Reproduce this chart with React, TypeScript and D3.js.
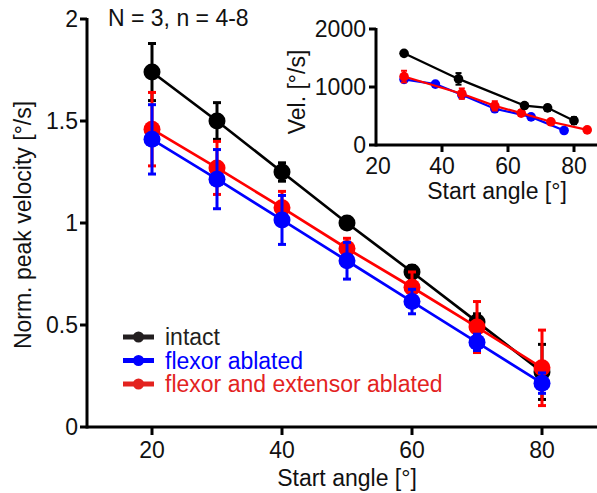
import React from "react";
import * as d3 from "d3";

// main plot: normalized peak velocity vs start angle
const angles = [20, 30, 40, 50, 60, 70, 80];
const intactMean = [1.74, 1.5, 1.25, 1.0, 0.76, 0.515, 0.27];
const intactErr = [0.14, 0.09, 0.045, 0.02, 0.03, 0.04, 0.135];
const flexorMean = [1.41, 1.215, 1.015, 0.815, 0.615, 0.415, 0.215];
const flexorErr = [0.17, 0.145, 0.12, 0.09, 0.06, 0.04, 0.05];
const bothMean = [1.46, 1.27, 1.075, 0.875, 0.685, 0.49, 0.29];
const bothErr = [0.18, 0.13, 0.08, 0.05, 0.075, 0.125, 0.185];

const yTicks = [0, 0.5, 1, 1.5, 2];
const yTickLabels = ["0", "0.5", "1", "1.5", "2"];
const xTicks = [20, 40, 60, 80];

// inset: raw velocity
const inIntactAngle = [28.5, 45, 65, 72, 80];
const inIntactVel = [1580, 1140, 680, 640, 420];
const inIntactErr = [40, 100, 40, 50, 60];
const inFlexorAngle = [28.5, 38, 46, 56, 67, 77];
const inFlexorVel = [1130, 1050, 865, 625, 485, 250];
const inFlexorErr = [40, 30, 40, 40, 30, 30];
const inBothAngle = [28.5, 46, 56, 64, 73, 84];
const inBothVel = [1180, 885, 675, 550, 400, 260];
const inBothErr = [100, 90, 80, 50, 40, 30];

const inYTicks = [0, 1000, 2000];
const inXTicks = [20, 40, 60, 80];

const legendNames = ["intact", "flexor ablated", "flexor and extensor ablated"];
const legendColors = ["#231f20", "#0000ff", "#e3231f"];

const FONT = "Arial, 'Liberation Sans', Helvetica, sans-serif";
const FS = 23;

function Series({ xs, ys, es, x, y, color, r, lw, ew, cap }) {
  const pts = xs.map((a, i) => [x(a), y(ys[i])]);
  const line = d3.line();
  return (
    <g>
      <path d={line(pts) || ""} fill="none" stroke={color} strokeWidth={lw} />
      {xs.map((a, i) => {
        const cx = x(a);
        const top = y(ys[i] + es[i]);
        const bot = y(ys[i] - es[i]);
        return (
          <g key={i} stroke={color} strokeWidth={ew}>
            <line x1={cx} x2={cx} y1={top} y2={bot} />
            <line x1={cx - cap} x2={cx + cap} y1={top} y2={top} />
            <line x1={cx - cap} x2={cx + cap} y1={bot} y2={bot} />
          </g>
        );
      })}
      {pts.map((p, i) => (
        <circle key={i} cx={p[0]} cy={p[1]} r={r} fill={color} />
      ))}
    </g>
  );
}

export default function App() {
  const W = 597, H = 493;
  const x = d3.scaleLinear().domain([10, 90]).range([87, 607]);
  const y = d3.scaleLinear().domain([0, 2]).range([427, 19]);

  const ix = d3.scaleLinear().domain([20, 90]).range([376, 607]);
  const iy = d3.scaleLinear().domain([0, 2000]).range([145, 29]);

  return (
    <div style={{ position: "fixed", left: 0, top: 0 }}>
      <svg width={W} height={H} style={{ display: "block", background: "#fff" }} fontFamily={FONT}>
        {/* main axes */}
        <line x1={x(10)} x2={W} y1={y(0)} y2={y(0)} stroke="#000" strokeWidth={3} />
        <line x1={x(10)} x2={x(10)} y1={y(2) - 1} y2={y(0) + 1.5} stroke="#000" strokeWidth={3} />
        {yTicks.map((t, i) => (
          <g key={t}>
            <line x1={x(10) - 7} x2={x(10)} y1={y(t)} y2={y(t)} stroke="#000" strokeWidth={3} />
            <text x={x(10) - 9} y={y(t) + 8} fontSize={FS} textAnchor="end" fill="#111">{yTickLabels[i]}</text>
          </g>
        ))}
        {xTicks.map((t) => (
          <g key={t}>
            <line x1={x(t)} x2={x(t)} y1={y(0)} y2={y(0) + 8} stroke="#000" strokeWidth={3} />
            <text x={x(t)} y={458} fontSize={FS} textAnchor="middle" fill="#111">{t}</text>
          </g>
        ))}
        <text x={347} y={486} fontSize={FS} textAnchor="middle" fill="#111">Start angle [°]</text>
        <text transform="translate(31,225) rotate(-90)" fontSize={FS} textAnchor="middle" fill="#111">Norm. peak velocity [°/s]</text>
        <text x={108} y={26} fontSize={FS} fill="#111">N = 3, n = 4-8</text>

        {/* main data */}
        <Series xs={angles} ys={intactMean} es={intactErr} x={x} y={y} color="#000" r={8.5} lw={2.7} ew={3} cap={4} />
        <Series xs={angles} ys={bothMean} es={bothErr} x={x} y={y} color="#ff0000" r={8.5} lw={2.7} ew={3} cap={4} />
        <Series xs={angles} ys={flexorMean} es={flexorErr} x={x} y={y} color="#0000ff" r={8.5} lw={2.7} ew={3} cap={4} />

        {/* legend */}
        {legendNames.map((n, i) => {
          const cy = 337 + i * 23.5;
          return (
            <g key={n}>
              <line x1={123} x2={154} y1={cy} y2={cy} stroke={legendColors[i]} strokeWidth={5} />
              <circle cx={138.5} cy={cy} r={5.5} fill={legendColors[i]} />
              <text x={165} y={cy + 8} fontSize={FS} fill={legendColors[i]}>{n}</text>
            </g>
          );
        })}

        {/* inset axes */}
        <line x1={ix(20)} x2={W} y1={iy(0)} y2={iy(0)} stroke="#000" strokeWidth={3} />
        <line x1={ix(20)} x2={ix(20)} y1={iy(2000) - 1} y2={iy(0) + 1.5} stroke="#000" strokeWidth={3} />
        {inYTicks.map((t) => (
          <g key={t}>
            <line x1={ix(20) - 7} x2={ix(20)} y1={iy(t)} y2={iy(t)} stroke="#000" strokeWidth={3} />
            <text x={ix(20) - 10} y={iy(t) + 8} fontSize={FS} textAnchor="end" fill="#111">{t}</text>
          </g>
        ))}
        {inXTicks.map((t) => (
          <g key={t}>
            {t > 20 && <line x1={ix(t)} x2={ix(t)} y1={iy(0)} y2={iy(0) + 7} stroke="#000" strokeWidth={3} />}
            <text x={ix(t) + (t === 20 ? 2 : 0)} y={174} fontSize={FS} textAnchor="middle" fill="#111">{t}</text>
          </g>
        ))}
        <text x={497} y={199} fontSize={FS} textAnchor="middle" fill="#111">Start angle [°]</text>
        <text transform="translate(305,92) rotate(-90)" fontSize={FS} textAnchor="middle" fill="#111">Vel. [°/s]</text>

        {/* inset data */}
        <Series xs={inFlexorAngle} ys={inFlexorVel} es={inFlexorErr} x={ix} y={iy} color="#0000ff" r={4.8} lw={2.2} ew={2} cap={3} />
        <Series xs={inBothAngle} ys={inBothVel} es={inBothErr} x={ix} y={iy} color="#ff0000" r={4.8} lw={2.2} ew={2} cap={3} />
        <Series xs={inIntactAngle} ys={inIntactVel} es={inIntactErr} x={ix} y={iy} color="#000" r={4.8} lw={2.2} ew={2} cap={3} />
      </svg>
    </div>
  );
}
